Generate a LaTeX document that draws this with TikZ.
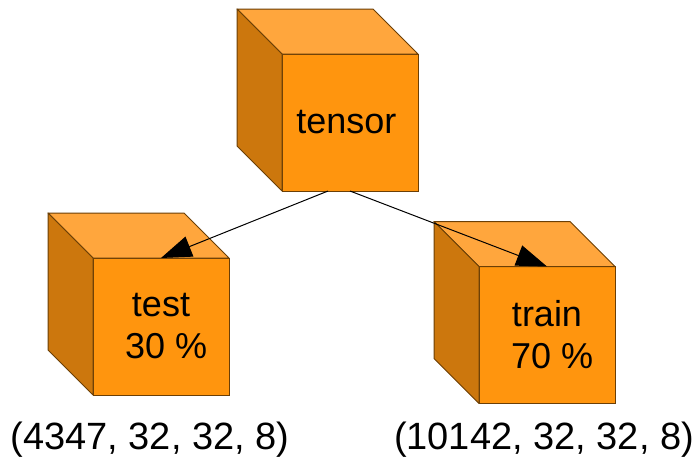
\documentclass[tikz,border=0pt]{standalone}
\usepackage{fontspec}
\setmainfont{Liberation Sans}
\usepackage{tikz}
\usetikzlibrary{arrows.meta}

\definecolor{frontcol}{HTML}{FF950E}
\definecolor{topcol}{HTML}{FFA63D}
\definecolor{sidecol}{HTML}{CC770D}
\definecolor{edgecol}{HTML}{6B3F06}

\begin{document}
\begin{tikzpicture}[x=0.75pt,y=-0.75pt,>={Triangle[length=23pt,width=16pt]},line width=0.75pt]

    \tikzstyle{face}=[draw=edgecol, fill=frontcol, minimum width=102pt, minimum height=102.75pt, outer sep=0pt, inner sep=0pt, align=center, font=\fontsize{27}{31.5}\selectfont]
    \tikzstyle{edge}=[draw=edgecol, line join=round]
    \tikzstyle{split}=[->, black]
    \tikzstyle{dims}=[font=\fontsize{28.5}{33}\selectfont]

    \def \depth {45} % offset of the back faces, in px
    \def \faceW {136} % width of the front face
    \def \faceH {137} % height of the front face

    \newcommand\cube[3]{
        \node[face] (#1) at (#2) {#3};
        \draw[edge, fill=topcol] (#1.north west) -- ++(-\depth,-\depth) -- ++(\faceW,0) -- (#1.north east) -- cycle;
        \draw[edge, fill=sidecol] (#1.north west) -- ++(-\depth,-\depth) -- ++(0,\faceH) -- (#1.south west) -- cycle;
    }
    %\cube{name}{centre of front face}{text};

    \useasboundingbox (0,0) rectangle (698,462);

    % the three cubes
    \cube{tensor}{350,122.5}{tensor\hspace*{0.2em}};
    \cube{test}{161,326.5}{test\\\hspace*{0.28em}30 \%};
    \cube{train}{547,335}{train\\\hspace*{0.28em}70 \%};

    % shapes below the parts
    \node[dims] (testdims) at (150,440) {(4347, 32, 32, 8)};
    \node[dims] (traindims) at (544,440) {(10142, 32, 32, 8)};

    % split arrows
    \draw[split] ([xshift=-16.5pt]tensor.south) -- (test.north);
    \draw[split] (tensor.south) -- (train.north);

\end{tikzpicture}
\end{document}
